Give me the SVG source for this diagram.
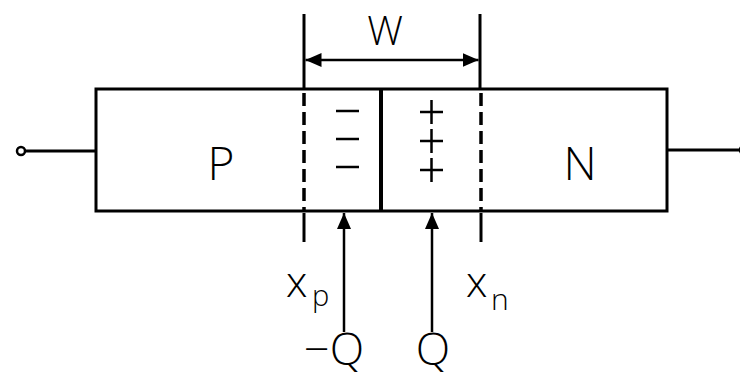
<svg xmlns="http://www.w3.org/2000/svg" width="740" height="377" viewBox="0 0 740 377">
<style>
.ln{stroke:#000;stroke-width:3;fill:none}
.th{stroke:#000;stroke-width:2.5;fill:none}
.dash{stroke:#000;stroke-width:3.5;fill:none;stroke-dasharray:13,6}
.t{font-family:"Open Sans","Liberation Sans",Arial,sans-serif;font-weight:300;fill:#000}
</style>
<defs>
<marker id="ah" viewBox="0 0 16 14" refX="16" refY="7" markerWidth="16" markerHeight="14" markerUnits="userSpaceOnUse" orient="auto-start-reverse">
<path d="M0,0 L16,7 L0,14 Z" fill="#000"/>
</marker>
</defs>
<g id="device">
<rect x="96" y="89" width="571" height="122" class="ln" stroke-width="4"/>
<line x1="381" y1="89" x2="381" y2="211" stroke="#000" stroke-width="4"/>
</g>
<g id="P"><text x="221" y="180" class="t" font-size="46" text-anchor="middle">P</text></g>
<g id="N"><text x="580" y="180" class="t" font-size="46" text-anchor="middle">N</text></g>
<g id="charges">
<line x1="336" y1="111" x2="359" y2="111" class="th"/>
<line x1="336" y1="139" x2="359" y2="139" class="th"/>
<line x1="336" y1="167" x2="359" y2="167" class="th"/>
<path d="M420,112 H443 M431.5,100 V124 M420,141 H443 M431.5,129 V153 M420,170 H443 M431.5,158 V182" class="th"/>
</g>
<g id="terminals">
<line x1="25" y1="151" x2="96" y2="151" class="ln"/>
<circle cx="21" cy="151" r="4" fill="#fff" stroke="#000" stroke-width="2.5"/>
<line x1="667" y1="150" x2="740" y2="150" class="ln"/>
<circle cx="744" cy="150" r="4" fill="#fff" stroke="#000" stroke-width="2.5"/>
</g>
<g id="connectors">
<line x1="304" y1="14" x2="304" y2="89" class="ln"/>
<line x1="480" y1="14" x2="480" y2="89" class="ln"/>
<line x1="305.5" y1="60" x2="478.5" y2="60" class="th" marker-start="url(#ah)" marker-end="url(#ah)"/>
<line x1="304" y1="93" x2="304" y2="211" class="dash"/>
<line x1="481" y1="93" x2="481" y2="211" class="dash"/>
<line x1="304" y1="213" x2="304" y2="242" class="ln"/>
<line x1="481" y1="213" x2="481" y2="242" class="ln"/>
<line x1="344" y1="332" x2="344" y2="213" class="th" marker-end="url(#ah)"/>
<line x1="432" y1="332" x2="432" y2="213" class="th" marker-end="url(#ah)"/>
</g>
<g id="labels">
<text x="385" y="45" class="t" font-size="40" text-anchor="middle">W</text>
<text x="286" y="297" class="t" font-size="43">x</text>
<text x="312" y="306" class="t" font-size="29">p</text>
<text x="466" y="297" class="t" font-size="43">x</text>
<text x="491" y="310" class="t" font-size="30">n</text>
<text x="334" y="365" class="t" font-size="45" text-anchor="middle">−Q</text>
<text x="433" y="365" class="t" font-size="45" text-anchor="middle">Q</text>
</g>
</svg>
